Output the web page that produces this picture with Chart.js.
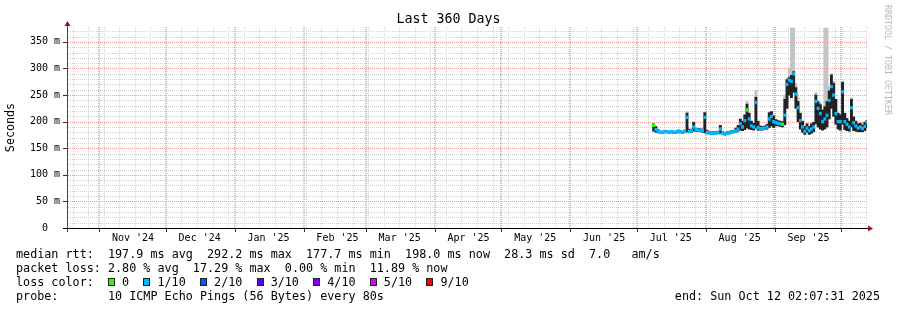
<!DOCTYPE html>
<html>
<head>
<meta charset="utf-8">
<title>Last 360 Days</title>
<script src="https://cdn.jsdelivr.net/npm/chart.js@4.4.1/dist/chart.umd.min.js"></script>
<style>
  html, body { margin: 0; padding: 0; background: #fff; }
  #wrap { position: relative; width: 897px; height: 310px; font-family: 'DejaVu Sans Mono', monospace; color: #000; }
  #chart { position: absolute; left: 0; top: 0; }
  .title { position: absolute; left: 0; top: 11px; width: 897px; text-align: center; font-size: 13.3px; line-height: 16px; }
  .row { position: absolute; left: 16px; font-size: 11.76px; line-height: 14px; white-space: pre; }
  .end { position: absolute; right: 17px; font-size: 11.76px; line-height: 14px; white-space: pre; }
  .box { display: inline-block; width: 1ch; height: 8px; box-sizing: border-box; border: 1px solid #222; }
  .stamp { position: absolute; left: 883px; top: 5px; writing-mode: vertical-rl; font-size: 8.3px; line-height: 10px; color: #b8b8b8; white-space: pre; }
</style>
</head>
<body>
<div id="wrap">
  <canvas id="chart" width="897" height="310"></canvas>
  <div class="title">Last 360 Days</div>
  <div class="stamp">RRDTOOL / TOBI OETIKER</div>
  <div class="row" id="row1" style="top:247px"></div>
  <div class="row" id="row2" style="top:261px"></div>
  <div class="row" id="row3" style="top:275px"></div>
  <div class="row" id="row4" style="top:289px"></div>
  <div class="end" id="endStamp" style="top:289px"></div>
</div>
<script>
// time axis: days counted from the left edge of the graph (360 days shown)
const spanDays = 360;
const monthStarts = [14.5, 44.5, 75.5, 106.5, 134.5, 165.5, 195.5, 226.5, 256.5, 287.5, 318.5, 348.5];
const monthLabels = ["Nov '24", "Dec '24", "Jan '25", "Feb '25", "Mar '25", "Apr '25", "May '25", "Jun '25", "Jul '25", "Aug '25", "Sep '25"];
const firstWeek = 2.5;

const yMax = 378;
const yTicks = [0, 50, 100, 150, 200, 250, 300, 350];
const yTickLabels = ['0  ', '50 m', '100 m', '150 m', '200 m', '250 m', '300 m', '350 m'];

// samples are one per day, starting at this day
const firstDay = 264;
// median rtt (ms)
const median = [
  193, 185, 182, 180, 180, 181, 181, 180, 181, 180, 180, 182, 181, 180, 182, 208,
  182, 183, 190, 185, 184, 184, 183, 208, 180, 179, 178, 178, 179, 179, 186, 178,
  177, 178, 179, 180, 181, 183, 186, 196, 190, 202, 222, 205, 192, 190, 236, 189,
  187, 187, 188, 190, 205, 210, 200, 198, 197, 196, 195, 212, 270, 278, 276, 290,
  252, 226, 202, 190, 182, 188, 183, 186, 190, 238, 225, 215, 200, 205, 212, 240,
  266, 250, 215, 200, 200, 256, 200, 195, 190, 226, 198, 192, 188, 190, 187, 191,
  198
];
// dense part of the smoke (ms)
const smokeLo = [
  182, 180, 179, 178, 178, 179, 179, 178, 179, 178, 178, 179, 179, 178, 179, 181,
  179, 180, 182, 182, 181, 181, 180, 179, 177, 177, 176, 176, 177, 177, 178, 176,
  175, 176, 177, 178, 179, 180, 182, 184, 183, 185, 188, 186, 185, 184, 188, 184,
  184, 184, 185, 186, 189, 192, 189, 192, 192, 191, 190, 194, 225, 250, 245, 255,
  225, 200, 186, 180, 176, 180, 176, 178, 181, 196, 190, 186, 184, 186, 190, 205,
  225, 210, 195, 186, 184, 195, 185, 183, 182, 190, 183, 182, 181, 181, 181, 183,
  188
];
const smokeHi = [
  196, 191, 185, 182, 182, 183, 183, 182, 183, 182, 182, 184, 183, 182, 184, 216,
  186, 186, 199, 188, 187, 187, 186, 217, 184, 182, 181, 181, 182, 182, 193, 181,
  180, 181, 182, 183, 184, 188, 193, 205, 201, 213, 233, 216, 201, 197, 246, 201,
  192, 191, 192, 195, 217, 219, 211, 204, 202, 201, 200, 242, 279, 283, 287, 294,
  264, 238, 216, 201, 191, 196, 191, 196, 199, 250, 237, 232, 222, 228, 238, 258,
  288, 272, 242, 216, 213, 274, 216, 206, 201, 242, 209, 201, 196, 197, 194, 199,
  202
];
// sparse top of the smoke (ms), null where there is none
const smokePeak = [
  null, null, null, null, null, null, null, null, null, null, null, null, null, null, null, 219,
  null, null, null, null, null, null, null, 218, null, null, null, null, null, null, null, null,
  null, null, null, null, null, null, null, null, null, null, 238, null, null, null, 259, null,
  null, null, null, null, null, null, null, null, null, null, null, 250, 282, 300, 376, 376,
  272, 246, null, null, null, null, null, null, null, 255, 240, 236, null, 376, 376, 266,
  290, 276, null, null, null, 276, null, null, null, 245, null, null, null, null, null, null,
  null
];
// packet loss class per sample (index into lossColors)
const loss = [
  0, 1, 1, 1, 1, 1, 1, 1, 1, 1, 1, 1, 1, 1, 1, 1,
  1, 1, 1, 1, 1, 1, 1, 1, 1, 1, 1, 1, 1, 1, 1, 1,
  1, 1, 1, 1, 1, 1, 1, 1, 1, 1, 0, 1, 1, 1, 1, 1,
  1, 1, 1, 1, 1, 1, 1, 1, 1, 1, 0, 1, 1, 1, 1, 1,
  1, 1, 1, 1, 1, 1, 1, 1, 1, 1, 1, 1, 1, 1, 1, 1,
  1, 1, 1, 1, 1, 1, 1, 1, 1, 1, 1, 1, 1, 1, 1, 1,
  1
];

const lossColors = ['#26ff00', '#00b8ff', '#0059ff', '#5e00ff', '#7e00ff', '#dd00ff', '#ff0000'];
const lossLabels = ['0', '1/10', '2/10', '3/10', '4/10', '5/10', '9/10'];

const medianLine = ['median rtt:', '197.9 ms avg', '292.2 ms max', '177.7 ms min', '198.0 ms now', '28.3 ms sd', '7.0   am/s'];
const lossLine = ['packet loss:', '2.80 % avg', '17.29 % max', '0.00 % min', '11.89 % now'];
const probeText = 'probe:       10 ICMP Echo Pings (56 Bytes) every 80s';
const endText = 'end: Sun Oct 12 02:07:31 2025';

// legend text
document.getElementById('row1').textContent = medianLine[0] + '  ' + medianLine.slice(1).join('  ');
document.getElementById('row2').textContent = lossLine[0] + ' ' + lossLine.slice(1).join('  ');
document.getElementById('row3').innerHTML = 'loss color:  ' + lossLabels.map((l, i) =>
  '<span class="box" style="background:' + lossColors[i] + '"></span> ' + l).join('  ');
document.getElementById('row4').textContent = probeText;
document.getElementById('endStamp').textContent = endText;

const FONT = 'DejaVu Sans Mono';
const medianHalf = 2.5; // half height of the median band, in ms

const days = median.map((m, i) => firstDay + i);
const peakData = [];
days.forEach((d, i) => { if (smokePeak[i] !== null) peakData.push({ x: d, y: [smokeHi[i], smokePeak[i]] }); });

// dotted lines drawn pixel by pixel so the colours stay exact
function dotsH(ctx, x0, x1, yy) {
  for (let xx = Math.round(x0); xx <= x1; xx += 2) ctx.fillRect(xx, yy, 1, 1);
}
function dotsV(ctx, xx, y0, y1, w) {
  for (let yy = Math.round(y0); yy <= y1; yy += 2) ctx.fillRect(xx, yy, w, 1);
}

// rrdtool style grid, axes and arrows, placed through the chart scales
const rrdGrid = {
  id: 'rrdGrid',
  beforeDatasetsDraw(chart) {
    const { ctx, chartArea: a, scales: { x, y } } = chart;
    const px = v => Math.round(x.getPixelForValue(v));
    const py = v => Math.round(y.getPixelForValue(v));
    ctx.save();
    ctx.fillStyle = '#d2d2d2';
    for (let v = 10; v <= yMax; v += 10) {
      if (v % 50 !== 0) dotsH(ctx, a.left + 1, a.right, py(v));
    }
    for (let d = firstWeek; d < spanDays; d += 7) dotsV(ctx, px(d), a.top, a.bottom, 1);
    ctx.fillStyle = '#f29a9a';
    yTicks.slice(1).forEach(v => dotsH(ctx, a.left + 1, a.right, py(v)));
    ctx.fillStyle = '#f4a8a8';
    monthStarts.forEach(d => dotsV(ctx, px(d) - 1, a.top, a.bottom, 2));
    ctx.restore();
  },
  afterDatasetsDraw(chart) {
    const { ctx, chartArea: a, scales: { x, y } } = chart;
    const px = v => Math.round(x.getPixelForValue(v));
    const py = v => Math.round(y.getPixelForValue(v));
    const bx = Math.round(a.left);
    const by = Math.round(a.bottom);
    ctx.save();
    ctx.fillStyle = '#333';
    // ticks
    yTicks.forEach(v => ctx.fillRect(bx - 4, py(v), 4, 1));
    monthStarts.forEach(d => ctx.fillRect(px(d), by, 1, 4));
    // axes
    ctx.fillStyle = '#000';
    ctx.fillRect(bx - 4, by, a.right - bx + 7, 1);
    ctx.fillStyle = '#444';
    ctx.fillRect(bx, a.top - 2, 1, by - a.top + 6);
    // arrows
    ctx.fillStyle = '#8b1a1a';
    ctx.beginPath(); ctx.moveTo(bx - 2.5, a.top - 1); ctx.lineTo(bx + 3.5, a.top - 1); ctx.lineTo(bx + 0.5, a.top - 6); ctx.closePath(); ctx.fill();
    ctx.beginPath(); ctx.moveTo(a.right + 1, by - 2.5); ctx.lineTo(a.right + 1, by + 3.5); ctx.lineTo(a.right + 6, by + 0.5); ctx.closePath(); ctx.fill();
    ctx.restore();
  }
};

const ctx = document.getElementById('chart').getContext('2d');
new Chart(ctx, {
  type: 'bar',
  data: {
    datasets: [
      {
        label: 'median',
        data: days.map((d, i) => ({ x: d, y: [median[i] - medianHalf, median[i] + medianHalf] })),
        backgroundColor: loss.map(l => lossColors[l]),
        grouped: false, barPercentage: 1, categoryPercentage: 1, order: 0
      },
      {
        label: 'smoke',
        data: days.map((d, i) => ({ x: d, y: [smokeLo[i], smokeHi[i]] })),
        backgroundColor: '#222',
        grouped: false, barPercentage: 1, categoryPercentage: 1, order: 1
      },
      {
        label: 'smoke top',
        data: peakData,
        backgroundColor: '#c4c4c4',
        grouped: false, barPercentage: 1, categoryPercentage: 1, order: 2
      }
    ]
  },
  options: {
    responsive: false,
    animation: false,
    devicePixelRatio: 1,
    layout: { padding: { left: 0, right: 30, top: 27, bottom: 0 } },
    plugins: { legend: { display: false }, tooltip: { enabled: false }, title: { display: false } },
    scales: {
      x: {
        type: 'linear', min: 0, max: spanDays, offset: false,
        grid: { display: false, drawTicks: false }, border: { display: false },
        afterBuildTicks: s => { s.ticks = monthLabels.map((l, i) => ({ value: monthStarts[i] + 15.2 })); },
        afterFit: s => { s.height = 82; },
        ticks: {
          autoSkip: false, maxRotation: 0, padding: 4, color: '#000',
          font: { family: FONT, size: 10 },
          callback: (v, i) => monthLabels[i]
        }
      },
      y: {
        min: 0, max: yMax,
        grid: { display: false, drawTicks: false }, border: { display: false },
        afterBuildTicks: s => { s.ticks = yTicks.map(v => ({ value: v })); },
        afterFit: s => { s.width = 67; },
        ticks: {
          padding: 7, color: '#000',
          font: { family: FONT, size: 10 },
          callback: (v, i) => yTickLabels[i]
        },
        title: {
          display: true, text: 'Seconds', color: '#000',
          padding: { top: 4, bottom: 0 },
          font: { family: FONT, size: 11.7 }
        }
      }
    }
  },
  plugins: [rrdGrid]
});
</script>
</body>
</html>
